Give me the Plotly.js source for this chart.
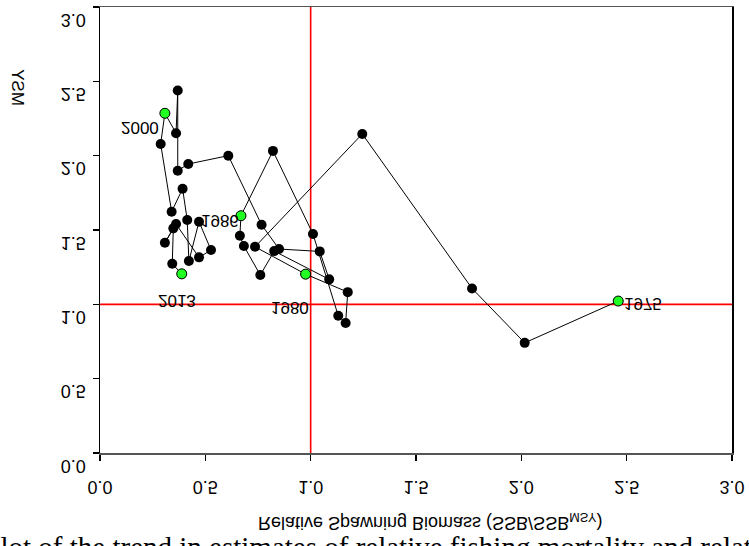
<!DOCTYPE html>
<html>
<head>
<meta charset="utf-8">
<script src="https://cdn.plot.ly/plotly-3.0.1.min.js"></script>
<style>
html,body{margin:0;padding:0;background:#fff;}
#chart{width:749px;height:546px;}
</style>
</head>
<body>
<div id="chart"></div>
<script>
// ---- data ----
var years = [1975,1976,1977,1978,1979,1980,1981,1982,1983,1984,1985,1986,1987,1988,1989,1990,1991,1992,1993,1994,1995,1996,1997,1998,1999,2000,2001,2002,2003,2004,2005,2006,2007,2008,2009,2010,2011,2012,2013];
var ssbRel = [2.460,2.016,1.766,1.245,0.736,0.976,1.176,1.166,1.131,1.011,0.821,0.669,0.664,0.683,0.761,0.827,1.088,1.043,0.850,0.767,0.609,0.419,0.369,0.369,0.361,0.308,0.288,0.340,0.392,0.414,0.422,0.470,0.527,0.470,0.361,0.308,0.348,0.343,0.388];
var fRel = [1.022,0.741,1.107,2.146,1.387,1.203,1.082,0.875,0.923,1.473,2.032,1.596,1.461,1.392,1.197,1.358,1.168,1.356,1.372,1.535,2.000,1.944,1.899,2.438,2.151,2.285,2.079,1.623,1.778,1.567,1.291,1.556,1.365,1.316,1.540,1.414,1.511,1.273,1.205];
var labelYears = [1975,1980,1986,2000,2013];
var refSSB = 1.0, refF = 1.0;
var xRange = [0,3], yRange = [0,3];
var xTitle = 'Relative Spawning Biomass (SSB/SSB<sub>MSY</sub>)';
var yTitle = 'MSY';
var captionText = 'plot of the trend in estimates of relative fishing mortality and relative spawning biomass';

// ---- label offsets (style) ----
var labelShift = {1975:[25,-2],1980:[-16,-33],1986:[-21,-5],2000:[-25,-14],2013:[-5,-27]};

var FONT = 'Liberation Sans, Arial, sans-serif';
var hx = [], hy = [];
labelYears.forEach(function(yr){ var i = years.indexOf(yr); hx.push(ssbRel[i]); hy.push(fRel[i]); });

var traces = [
  {x:[refSSB,refSSB], y:yRange, mode:'lines', line:{color:'#ff0000', width:1.6}, hoverinfo:'skip'},
  {x:xRange, y:[refF,refF], mode:'lines', line:{color:'#ff0000', width:1.6}, hoverinfo:'skip'},
  {x:ssbRel, y:fRel, mode:'lines+markers', line:{color:'#000', width:1}, marker:{color:'#000', size:10}},
  {x:hx, y:hy, mode:'markers', marker:{color:'#22ff22', size:10, line:{color:'#000', width:1}}}
];

var ann = labelYears.map(function(yr, k){
  var s = labelShift[yr];
  return {x:hx[k], y:hy[k], xref:'x', yref:'y', text:String(yr), showarrow:false,
          xshift:s[0], yshift:s[1], font:{family:FONT, size:17, color:'#000'}};
});
ann.push({xref:'paper', yref:'paper', x:0.522, y:-0.1547, text:xTitle, showarrow:false,
          xanchor:'center', yanchor:'middle', font:{family:FONT, size:18, color:'#000'}});
ann.push({xref:'paper', yref:'paper', x:-0.1297, y:0.8184, text:yTitle, textangle:-90, showarrow:false,
          xanchor:'center', yanchor:'middle', font:{family:FONT, size:17, color:'#000'}});
ann.push({xref:'paper', yref:'paper', x:-0.184, y:-0.2108, text:captionText, showarrow:false,
          xanchor:'left', yanchor:'middle', font:{family:'Liberation Serif, Times New Roman, serif', size:29, color:'#000'}});

var layout = {
  width:749, height:546,
  margin:{l:100, r:17, t:7, b:93, pad:0},
  paper_bgcolor:'#fff', plot_bgcolor:'#fff',
  showlegend:false,
  xaxis:{range:xRange, dtick:0.5, tick0:0, tickformat:'.1f', ticks:'outside', ticklen:6, tickwidth:1.5, tickcolor:'#000',
         showline:true, mirror:true, linecolor:'#555', linewidth:1.5, showgrid:false, zeroline:false,
         ticklabeloverflow:'allow', ticklabelstandoff:-2,
         tickfont:{family:FONT, size:18, color:'#000'}},
  yaxis:{range:yRange, dtick:0.5, tick0:0, tickformat:'.1f', ticks:'outside', ticklen:6, tickwidth:1.5, tickcolor:'#000',
         showline:true, mirror:true, linecolor:'#000', linewidth:1.5, showgrid:false, zeroline:false,
         ticklabeloverflow:'allow', ticklabelstandoff:3,
         tickfont:{family:FONT, size:18, color:'#000'}},
  annotations:ann
};

function flipAbout(t, cy){
  var old = t.getAttribute('transform') || '';
  t.setAttribute('transform', old + ' translate(0,' + cy + ') scale(1,-1) translate(0,' + (-cy) + ')');
}
function flipTexts(gd){
  // tick labels: mirrored about their baseline
  gd.querySelectorAll('.xtick text, .ytick text').forEach(function(t){
    var b = t.getBBox();
    flipAbout(t, b.y + 0.81 * b.height);
  });
  // annotations: mirrored about their own middle
  gd.querySelectorAll('.annotation text').forEach(function(t){
    if (t.textContent === captionText) return;
    var b = t.getBBox();
    flipAbout(t, b.y + b.height / 2);
  });
}

Plotly.newPlot('chart', traces, layout, {displayModeBar:false, staticPlot:true}).then(flipTexts);
</script>
</body>
</html>
